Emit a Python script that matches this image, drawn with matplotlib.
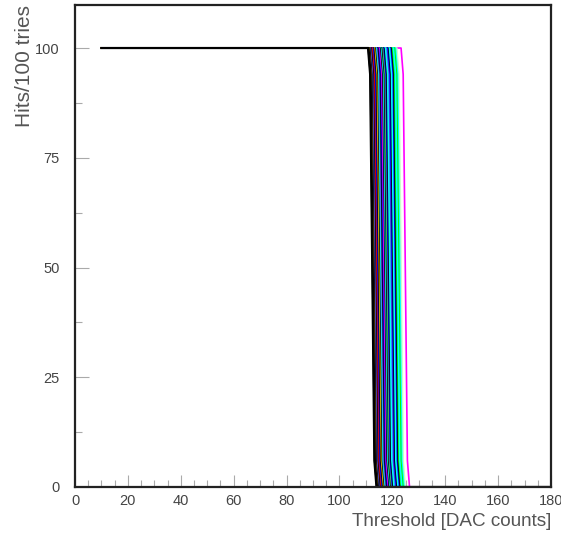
import matplotlib
matplotlib.use("Agg")
import matplotlib.pyplot as plt
from matplotlib.ticker import MultipleLocator

# --- data ---
# DAC value at which each channel's S-curve crosses 50 hits
thresholds = [
    112.3, 112.7, 113.0, 113.3, 113.6, 113.9, 114.2, 114.5, 114.8,
    115.1, 115.4, 115.7, 116.0, 116.3, 116.6, 116.9, 117.2, 117.5,
    117.8, 118.1, 118.4, 118.7, 119.0, 119.3, 119.6, 119.9, 120.2,
    120.5, 120.8, 121.1, 121.4, 121.7, 122.0, 122.4, 122.8, 123.3,
    124.9,
]
channel_colors = [
    "#000000", "#ffcc00", "#000000", "#5954d8", "#000000", "#ff0000",
    "#0000ff", "#000000", "#ffcc00", "#000000", "#00ffff", "#5954d8",
    "#000000", "#0000ff", "#ff00ff", "#000000", "#00ffff", "#000000",
    "#59d454", "#0000ff", "#000000", "#00ffff", "#00ffff", "#5954d8",
    "#0000ff", "#000000", "#00ffff", "#00ffff", "#0000ff", "#000000",
    "#00ff00", "#00ffff", "#00ffff", "#00ff00", "#00ffff", "#c8ffc8",
    "#ff00ff",
]
scan_start = 10
scan_end = 180
# S-curve shape around the 50 % point: offset in DAC counts -> hits
profile_offset = [-1.6, -0.8, 0.0, 0.8, 1.6]
profile_hits = [100, 94, 50, 6, 0]
last_threshold = 112.6  # black channel drawn on top

xlabel = "Threshold [DAC counts]"
ylabel = "Hits/100 tries"

fig = plt.figure(figsize=(5.61, 5.36), dpi=100)
ax = fig.add_axes([75/561, 1-487/536, 476/561, 482/536])

def curve(t):
    xs = [scan_start] + [t + o for o in profile_offset] + [scan_end]
    ys = [profile_hits[0]] + profile_hits + [profile_hits[-1]]
    return xs, ys

order = list(range(len(thresholds)))
# draw from right to left so lower-threshold channels sit on top
for i in reversed(order):
    xs, ys = curve(thresholds[i])
    ax.plot(xs, ys, color=channel_colors[i], lw=1.2)
xs, ys = curve(last_threshold)
ax.plot(xs, ys, color="black", lw=1.6)

ax.set_xlim(0, 180)
ax.set_ylim(0, 109.8)
ax.xaxis.set_major_locator(MultipleLocator(20))
ax.xaxis.set_minor_locator(MultipleLocator(5))
ax.yaxis.set_major_locator(MultipleLocator(25))
ax.yaxis.set_minor_locator(MultipleLocator(12.5))
ax.tick_params(which="both", direction="in", color="#aaaaaa", width=0.8,
               labelcolor="#444444", labelsize=10.5, top=False, right=False)
ax.tick_params(which="major", length=10, pad=6)
ax.tick_params(which="minor", length=5)
ax.tick_params(axis="x", which="major", length=9, pad=5)
ax.tick_params(axis="y", pad=11)
for lab in ax.get_xticklabels() + ax.get_yticklabels():
    lab.set_family("Liberation Sans")

for sp in ax.spines.values():
    sp.set_color("#222222")
    sp.set_linewidth(1.6)

fig.text(551/561, 1-522/536, xlabel, ha="right", va="center",
         fontsize=13.6, color="#555555", family="Liberation Sans")
fig.text(25/561, 1-5/536, ylabel, ha="center", va="top", rotation=90,
         fontsize=15, color="#555555", family="Liberation Sans")

fig.savefig("out.png", dpi=100)
